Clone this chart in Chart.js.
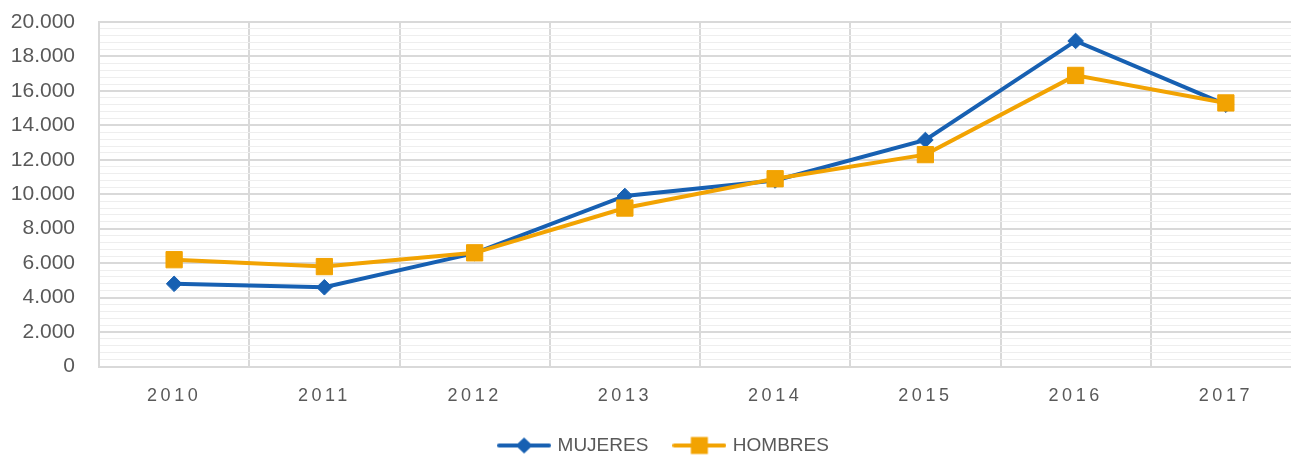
<!DOCTYPE html>
<html>
<head>
<meta charset="utf-8">
<script src="https://cdn.jsdelivr.net/npm/chart.js@4"></script>
<style>
  html, body { margin: 0; padding: 0; background: #fff; overflow: hidden; }
  #wrap { position: relative; width: 1330px; height: 465px; }
</style>
</head>
<body>
<div id="wrap"><canvas id="chart"></canvas></div>
<script>
// data
const years = ['2010', '2011', '2012', '2013', '2014', '2015', '2016', '2017'];
const mujeres = [4800, 4600, 6580, 9900, 10800, 13150, 18900, 15200];
const hombres = [6200, 5800, 6600, 9200, 10900, 12300, 16900, 15300];

const BLUE = '#1760b2';
const ORANGE = '#f2a302';
const TEXT = '#595959';

// legend icon: a short line with the marker in the middle
const legendIcon = (color, shape) => {
    const c = document.createElement('canvas');
    c.width = 54;
    c.height = 20;
    const g = c.getContext('2d');
    g.strokeStyle = color;
    g.fillStyle = color;
    g.lineWidth = 4;
    g.lineCap = 'round';
    g.beginPath();
    g.moveTo(2, 10);
    g.lineTo(52, 10);
    g.stroke();
    g.beginPath();
    if (shape === 'diamond') {
        g.moveTo(27, 2); g.lineTo(35.5, 10); g.lineTo(27, 18); g.lineTo(18.5, 10);
    } else {
        g.rect(18.5, 1.5, 17, 17);
    }
    g.closePath();
    g.fill();
    return c;
};
const icons = [legendIcon(BLUE, 'diamond'), legendIcon(ORANGE, 'square')];

// letter spaced x labels, and the legend sits a bit right of centre
const tweaks = {
    id: 'tweaks',
    afterLayout(chart) {
        chart.legend.left += 14;
        chart.legend.right += 14;
        const scale = chart.scales.x;
        if (scale._spaced) return;
        const draw = scale.drawLabels;
        scale.drawLabels = function (area) {
            this.ctx.save();
            this.ctx.letterSpacing = '3.5px';
            draw.call(this, area);
            this.ctx.restore();
        };
        scale._spaced = true;
    }
};

const isMajor = ctx => ctx.tick && ctx.tick.value % 2000 === 0;

new Chart(document.getElementById('chart'), {
    type: 'line',
    data: {
        labels: years,
        datasets: [{
            label: 'MUJERES',
            data: mujeres,
            borderColor: BLUE,
            backgroundColor: BLUE,
            borderWidth: 4,
            pointStyle: 'rectRot',
            pointRadius: 7.8,
            pointBorderWidth: 1,
            pointHoverRadius: 7.8,
            order: 1
        }, {
            label: 'HOMBRES',
            data: hombres,
            borderColor: ORANGE,
            backgroundColor: ORANGE,
            borderWidth: 4,
            pointStyle: 'rect',
            pointRadius: 11.5,
            pointBorderWidth: 1,
            pointHoverRadius: 11.5,
            order: 0
        }]
    },
    options: {
        responsive: true,
        maintainAspectRatio: false,
        animation: false,
        layout: { padding: { top: 22, right: 29, left: 0, bottom: 0 } },
        scales: {
            x: {
                offset: true,
                grid: { color: '#d9d9d9', lineWidth: 2, drawTicks: false, offset: true },
                border: { color: '#d9d9d9', width: 2 },
                ticks: { color: TEXT, padding: 19, font: { family: 'Liberation Sans', size: 18 } },
                afterFit(scale) { scale.height = 42.5; }
            },
            y: {
                min: 0,
                max: 20000,
                grid: {
                    // invisible tick marks push the labels away from the axis
                    drawTicks: true,
                    tickLength: 24,
                    tickColor: 'rgba(0,0,0,0)',
                    color: ctx => isMajor(ctx) ? '#d9d9d9' : '#eeeeee',
                    lineWidth: ctx => isMajor(ctx) ? 2 : 1
                },
                border: { color: '#d9d9d9', width: 2 },
                ticks: {
                    stepSize: 400,
                    maxTicksLimit: 60,
                    autoSkip: false,
                    color: TEXT,
                    padding: 0,
                    font: { family: 'Liberation Sans', size: 21 },
                    callback: v => v % 2000 === 0 ? v.toLocaleString('es-ES', { useGrouping: 'always' }) : ''
                },
                afterFit(scale) { scale.width = 99; }
            }
        },
        plugins: {
            tooltip: { enabled: false },
            legend: {
                position: 'bottom',
                labels: {
                    color: TEXT,
                    font: { family: 'Liberation Sans', size: 19 },
                    usePointStyle: true,
                    pointStyleWidth: 48,
                    padding: 27,
                    generateLabels(chart) {
                        return chart.data.datasets.map((ds, i) => ({
                            text: ds.label,
                            fillStyle: ds.borderColor,
                            strokeStyle: ds.borderColor,
                            fontColor: TEXT,
                            lineWidth: 0,
                            pointStyle: icons[i],
                            hidden: false,
                            datasetIndex: i
                        }));
                    }
                }
            }
        }
    },
    plugins: [tweaks]
});
</script>
</body>
</html>
